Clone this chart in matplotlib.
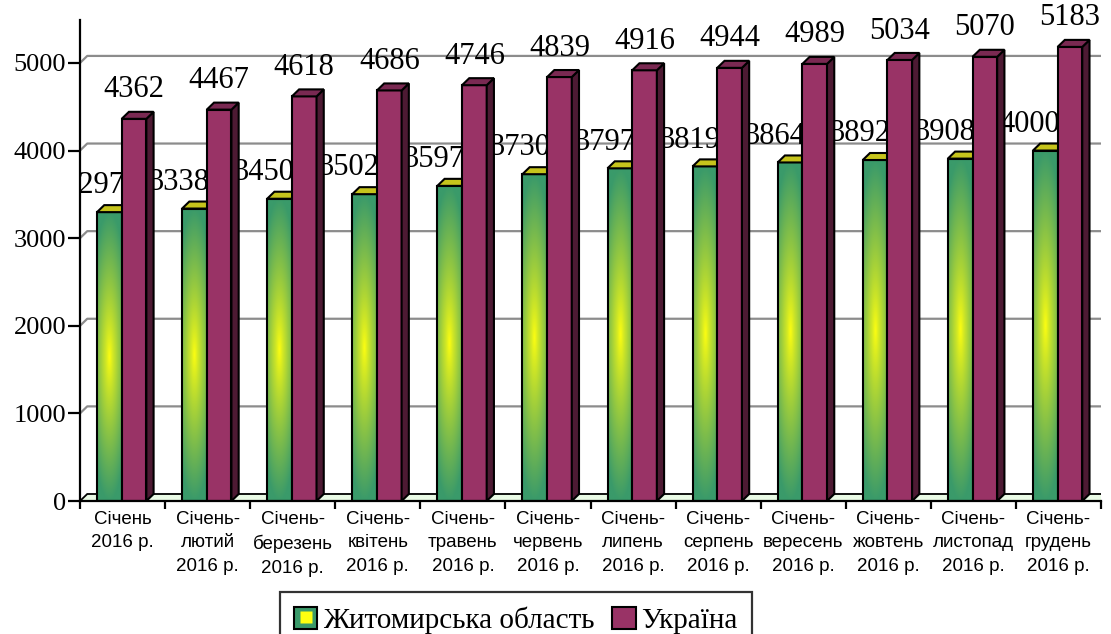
import matplotlib.pyplot as plt
import numpy as np
from matplotlib.patches import Polygon, Rectangle
from matplotlib.lines import Line2D
from matplotlib.legend_handler import HandlerTuple

months = ['Січень\n2016 р.', 'Січень-\nлютий\n2016 р.', 'Січень-\nберезень\n2016 р.',
          'Січень-\nквітень\n2016 р.', 'Січень-\nтравень\n2016 р.', 'Січень-\nчервень\n2016 р.',
          'Січень-\nлипень\n2016 р.', 'Січень-\nсерпень\n2016 р.', 'Січень-\nвересень\n2016 р.',
          'Січень-\nжовтень\n2016 р.', 'Січень-\nлистопад\n2016 р.', 'Січень-\nгрудень\n2016 р.']
zhytomyr = [3297, 3338, 3450, 3502, 3597, 3730, 3797, 3819, 3864, 3892, 3908, 4000]
ukraine = [4362, 4467, 4618, 4686, 4746, 4839, 4916, 4944, 4989, 5034, 5070, 5183]
yticks = [0, 1000, 2000, 3000, 4000, 5000]
series_names = ['Житомирська область', 'Україна']

serif = 'Liberation Serif'
sans = 'Liberation Sans'

purple = '#993366'
purple_side = '#4d1a33'
purple_top = '#7a2952'
green_edge = np.array([0x3a, 0x9a, 0x6a]) / 255
yellow = np.array([0xff, 0xff, 0x10]) / 255
green_top = '#c6c41c'

fig = plt.figure(figsize=(11.11, 6.34), dpi=100)
ax = fig.add_axes([80 / 1111, 133 / 634, 1021 / 1111, 481 / 634])

n = len(months)
dx, dy = 0.085, 80      # fake 3D depth
g0, bw = 0.2, 0.29      # green bar offset and bar width

# back wall gridlines
for v in yticks[1:]:
    ax.plot([0, dx, n + dx], [v, v + dy, v + dy], color='#8c8c8c', lw=1.6, zorder=1)

# floor
ax.add_patch(Polygon([(0, 0), (dx, dy), (n + dx, dy), (n, 0)], closed=True,
                     facecolor='#eafbe6', edgecolor='black', lw=1.3, zorder=1.5))

# gradient for the green bars
u = np.linspace(-1, 1, 30)
w = np.linspace(-1, 1, 200)
U, W = np.meshgrid(u, w)
d = np.clip(np.sqrt((0.6 * U) ** 2 + W ** 2), 0, 1) ** 0.85
grad = yellow[None, None, :] * (1 - d[..., None]) + green_edge[None, None, :] * d[..., None]

for i in range(n):
    x0 = i + g0
    v = zhytomyr[i]
    ax.imshow(grad, extent=(x0, x0 + bw, 0, v), aspect='auto', zorder=3, interpolation='bilinear')
    ax.add_patch(Rectangle((x0, 0), bw, v, facecolor='none', edgecolor='black', lw=1.5, zorder=3.1))
    ax.add_patch(Polygon([(x0, v), (x0 + dx, v + dy), (x0 + bw + dx, v + dy), (x0 + bw, v)],
                         closed=True, facecolor=green_top, edgecolor='black', lw=1.5, zorder=3.1))
    ax.text(x0 + bw / 2 - 0.18, v + 300, str(v), ha='center', va='center',
            fontsize=22, family=serif, zorder=2, clip_on=True)

    x1 = x0 + bw
    p = ukraine[i]
    ax.add_patch(Rectangle((x1, 0), bw, p, facecolor=purple, edgecolor='black', lw=1.5, zorder=4))
    ax.add_patch(Polygon([(x1 + bw, 0), (x1 + bw + dx, dy), (x1 + bw + dx, p + dy), (x1 + bw, p)],
                         closed=True, facecolor=purple_side, edgecolor='black', lw=1.5, zorder=4))
    ax.add_patch(Polygon([(x1, p), (x1 + dx, p + dy), (x1 + bw + dx, p + dy), (x1 + bw, p)],
                         closed=True, facecolor=purple_top, edgecolor='black', lw=1.5, zorder=4))
    ax.text(x1 + bw / 2, p + 330, str(p), ha='center', va='center',
            fontsize=22, family=serif, zorder=5, clip_on=False)

ax.set_xlim(0, n)
ax.set_ylim(0, 5490)

for s in ['top', 'right']:
    ax.spines[s].set_visible(False)
for s in ['left', 'bottom']:
    ax.spines[s].set_linewidth(1.6)
    ax.spines[s].set_zorder(6)

ax.set_yticks(yticks)
ax.set_yticklabels([str(t) for t in yticks], fontsize=19, family=serif)
ax.tick_params(axis='y', direction='out', length=9, width=1.6, pad=1)

ax.set_xticks(np.arange(n + 1))
ax.set_xticklabels([])
ax.tick_params(axis='x', which='major', direction='out', length=6, width=1.6)
ax.set_xticks(np.arange(n) + 0.5, minor=True)
ax.set_xticklabels(months, minor=True, fontsize=13.5, family=sans, linespacing=1.5)
ax.tick_params(axis='x', which='minor', length=0, pad=7)

# legend
h_green = (Rectangle((0, 0), 1, 1, facecolor=tuple(green_edge), edgecolor='black', lw=1.5),
           Line2D([], [], marker='s', ls='none', markersize=8, markerfacecolor=tuple(yellow),
                  markeredgecolor='none'))
h_purple = Rectangle((0, 0), 1, 1, facecolor=purple, edgecolor='black', lw=1.5)
leg = fig.legend([h_green, h_purple], series_names, loc='upper center',
                 bbox_to_anchor=(516 / 1111, 1 - 592 / 634), ncol=2, frameon=True,
                 fancybox=False, prop={'family': serif, 'size': 21}, borderaxespad=0,
                 handlelength=0.8, handleheight=0.8, handletextpad=0.2, columnspacing=0.6,
                 borderpad=0.5, handler_map={tuple: HandlerTuple(ndivide=1)})
leg.get_frame().set_edgecolor('black')
leg.get_frame().set_linewidth(1.6)

fig.savefig('out.png', dpi=100)
